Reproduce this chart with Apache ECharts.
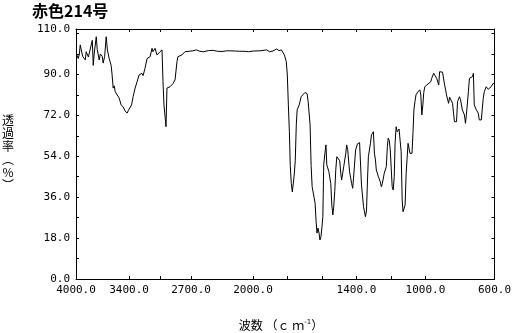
<!DOCTYPE html>
<html>
<head>
<meta charset="utf-8">
<script src="https://cdn.jsdelivr.net/npm/echarts@6/dist/echarts.min.js"></script>
<style>
  html, body { margin: 0; padding: 0; background: #fff; }
  #main { width: 514px; height: 333px; }
</style>
</head>
<body>
<div id="main"></div>
<script>
// 赤色214号 IR spectrum
var wavenumber = [
  3990, 3975, 3962, 3952, 3940, 3925, 3895, 3885, 3860, 3839,
  3816, 3805, 3795, 3771, 3760, 3738, 3725, 3704, 3693, 3676,
  3659, 3645, 3625, 3603, 3592, 3580, 3568, 3557, 3535, 3525,
  3512, 3500, 3490, 3467, 3445, 3422, 3411, 3389, 3372, 3355,
  3332, 3310, 3287, 3254, 3242, 3220, 3197, 3163, 3141, 3130,
  3107, 3085, 3051, 3028, 3017, 3006, 2990, 2983, 2972, 2937,
  2904, 2881, 2859, 2848, 2803, 2769, 2679, 2640, 2600, 2560,
  2500, 2450, 2400, 2350, 2300, 2250, 2200, 2150, 2100, 2050,
  2000, 1960, 1921, 1904, 1884, 1864, 1850, 1835, 1818, 1807,
  1801, 1795, 1789, 1784, 1778, 1772, 1766, 1761, 1755, 1749,
  1744, 1732, 1721, 1715, 1698, 1686, 1680, 1669, 1663, 1657,
  1646, 1640, 1634, 1629, 1623, 1617, 1612, 1606, 1600, 1595,
  1590, 1583, 1577, 1572, 1560, 1554, 1549, 1543, 1537, 1532,
  1526, 1520, 1514, 1503, 1497, 1491, 1486, 1474, 1462, 1457,
  1451, 1440, 1428, 1422, 1417, 1405, 1394, 1382, 1371, 1359,
  1348, 1342, 1336, 1331, 1319, 1313, 1302, 1296, 1290, 1285,
  1273, 1262, 1256, 1250, 1239, 1233, 1227, 1221, 1216, 1210,
  1204, 1193, 1187, 1181, 1176, 1170, 1164, 1153, 1147, 1141,
  1135, 1130, 1118, 1112, 1107, 1101, 1090, 1084, 1078, 1072,
  1067, 1061, 1055, 1044, 1032, 1027, 1021, 1015, 1010, 1004,
  992, 981, 969, 964, 952, 946, 935, 923, 918, 912,
  901, 889, 883, 878, 866, 860, 855, 843, 837, 832,
  820, 814, 803, 797, 786, 774, 768, 763, 751, 745,
  740, 728, 722, 717, 705, 694, 688, 676, 671, 665,
  659, 648, 636, 630, 619, 608, 602
];
var transmittance = [
  98.6, 97.0, 99.0, 103.0, 100.8, 98.0, 96.4, 100.0, 97.7, 97.7,
  105.0, 94.0, 99.0, 106.6, 101.0, 96.4, 99.0, 98.0, 95.0, 98.0,
  106.6, 100.8, 97.0, 94.0, 89.8, 84.0, 85.0, 82.4, 81.0, 81.5,
  79.6, 80.0, 76.6, 75.7, 73.9, 73.0, 74.0, 73.9, 76.6, 80.2,
  84.0, 86.8, 89.8, 90.5, 89.5, 92.7, 97.0, 97.8, 101.5, 100.0,
  101.5, 98.6, 100.0, 100.8, 86.8, 76.6, 70.0, 67.0, 84.0, 84.6,
  86.0, 87.6, 95.6, 97.8, 98.6, 100.0, 100.4, 100.8, 100.2, 100.0,
  100.5, 100.6, 100.2, 100.1, 100.4, 100.4, 100.3, 100.2, 100.2, 100.0,
  100.3, 100.4, 100.8, 100.0, 100.3, 101.2, 100.5, 100.8, 98.6, 95.6,
  89.8, 76.6, 64.8, 50.0, 42.0, 38.3, 38.7, 45.8, 52.0, 67.8,
  74.4, 76.6, 80.2, 81.0, 82.1, 81.5, 78.0, 67.8, 50.0, 40.6,
  40.0, 33.4, 25.2, 20.2, 22.4, 20.2, 17.2, 18.5, 23.0, 27.4,
  50.2, 55.3, 59.0, 50.2, 47.2, 48.0, 42.0, 32.6, 28.2, 31.8,
  38.4, 48.0, 53.8, 53.0, 52.0, 46.5, 43.6, 49.4, 55.3, 59.0,
  57.0, 47.2, 42.0, 39.9, 44.4, 56.8, 59.5, 60.0, 41.4, 31.8,
  27.4, 30.0, 43.6, 53.8, 59.7, 63.4, 64.8, 55.4, 52.4, 48.0,
  45.0, 42.8, 40.6, 42.0, 46.5, 46.0, 49.4, 58.2, 62.0, 61.0,
  56.8, 40.6, 39.2, 45.0, 60.0, 67.0, 64.8, 66.0, 66.3, 56.0,
  34.8, 29.6, 32.6, 46.5, 52.4, 59.7, 55.3, 54.5, 55.3, 64.8,
  74.4, 78.0, 81.0, 82.4, 83.2, 81.0, 72.2, 76.6, 82.0, 84.6,
  85.4, 86.0, 86.8, 88.3, 90.5, 90.0, 88.3, 85.4, 91.2, 92.0,
  91.0, 85.4, 83.2, 81.0, 77.3, 80.0, 80.0, 77.3, 72.9, 69.2,
  69.2, 78.0, 80.2, 79.0, 74.4, 72.2, 68.5, 72.0, 82.4, 88.3,
  88.5, 89.0, 90.5, 76.6, 74.4, 73.0, 70.0, 70.0, 74.4, 79.5,
  82.4, 84.6, 83.5, 83.2, 84.6, 86.0, 86.0
];

var leftLabels = [4000, 3400, 2700, 2000];
var leftTicks = [3400, 3050, 2700];
var rightLabels = [1400, 1000, 600];
var rightTicks = [2000, 1800, 1600, 1400, 1200, 1000];
var yLabels = [0, 18, 36, 54, 72, 90, 110];
var yTicks = [9, 18, 27, 36, 45, 54, 63, 72, 81, 90, 99, 108];

var pairs = wavenumber.map(function (w, i) { return [w, transmittance[i]]; });
var highRange = pairs.filter(function (p) { return p[0] >= 2000; });
var lowRange = pairs.filter(function (p) { return p[0] <= 2000; });

var monoFont = 'DejaVu Sans Mono';
var fmt = function (v) { return Number(v).toFixed(1); };

function xAxisOf(grid, pos, min, max, ticks, labels) {
  return {
    type: 'value', gridIndex: grid, position: pos, min: min, max: max, inverse: true,
    axisLine: { show: true, lineStyle: { color: '#000', width: 1 } },
    axisTick: { show: true, inside: true, length: 3, customValues: ticks, lineStyle: { color: '#000' } },
    axisLabel: labels ? {
      show: true, customValues: labels, formatter: fmt, margin: 6,
      color: '#000', fontFamily: monoFont, fontSize: 11
    } : { show: false },
    splitLine: { show: false }
  };
}

function yAxisOf(grid, pos, withLabels) {
  return {
    type: 'value', gridIndex: grid, position: pos, min: 0, max: 110,
    axisLine: { show: true, onZero: false, lineStyle: { color: '#000', width: 1 } },
    axisTick: { show: true, inside: true, length: 3, customValues: yTicks, lineStyle: { color: '#000' } },
    axisLabel: withLabels ? {
      show: true, customValues: yLabels, formatter: fmt, margin: 6,
      color: '#000', fontFamily: monoFont, fontSize: 11
    } : { show: false },
    splitLine: { show: false }
  };
}

var chart = echarts.init(document.getElementById('main'), null, { renderer: 'canvas' });
chart.setOption({
  animation: false,
  backgroundColor: '#fff',
  grid: [
    { left: 76, top: 29, width: 177, height: 250 },
    { left: 253, top: 29, width: 244, height: 250 }
  ],
  xAxis: [
    xAxisOf(0, 'bottom', 2000, 4000, leftTicks, leftLabels),
    xAxisOf(0, 'top', 2000, 4000, leftTicks, null),
    xAxisOf(1, 'bottom', 600, 2000, rightTicks, rightLabels),
    xAxisOf(1, 'top', 600, 2000, rightTicks, null)
  ],
  yAxis: [
    yAxisOf(0, 'left', true),
    yAxisOf(1, 'right', false)
  ],
  series: [
    {
      type: 'line', xAxisIndex: 0, yAxisIndex: 0, data: highRange,
      showSymbol: false, lineStyle: { color: '#000', width: 1 }
    },
    {
      type: 'line', xAxisIndex: 2, yAxisIndex: 1, data: lowRange,
      showSymbol: false, lineStyle: { color: '#000', width: 1 }
    }
  ],
  graphic: [
    {
      type: 'text', left: 32, top: 3,
      style: { text: '赤色214号', fontFamily: 'Noto Sans CJK JP', fontSize: 16, fontWeight: 'bold', fill: '#000' }
    },
    {
      type: 'text', x: 8, y: 153,
      style: {
        text: '透\n過\n率\n︵\n%\n︶', fontFamily: 'Noto Sans CJK JP', fontSize: 12,
        lineHeight: 13, align: 'center', verticalAlign: 'middle', fill: '#000'
      }
    },
    {
      type: 'text', x: 281, y: 325,
      style: {
        text: '波数 （ｃ ｍ{s|-1}）', fontFamily: 'Noto Sans CJK JP', fontSize: 12,
        align: 'center', verticalAlign: 'middle', fill: '#000',
        rich: { s: { fontSize: 7, verticalAlign: 'top', fontFamily: 'DejaVu Sans', padding: [0, 0, 6, 0] } }
      }
    }
  ]
});
</script>
</body>
</html>
